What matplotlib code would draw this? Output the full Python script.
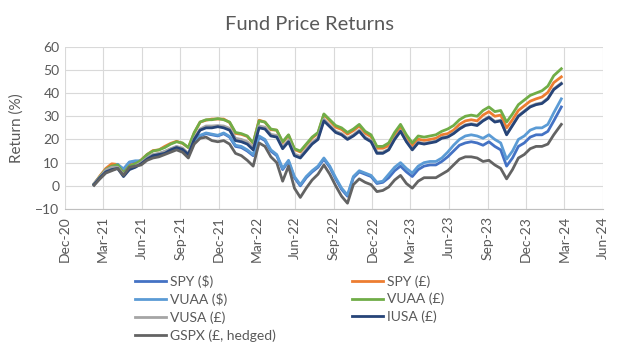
import matplotlib
matplotlib.use('Agg')
import matplotlib.pyplot as plt
import matplotlib.dates as mdates
import pandas as pd

# ---------------- data ----------------
dates = [
    "2021-02-08", "2021-02-22", "2021-03-08", "2021-03-22", "2021-04-05", "2021-04-19", "2021-05-03", "2021-05-17",
    "2021-05-31", "2021-06-14", "2021-06-28", "2021-07-12", "2021-07-26", "2021-08-09", "2021-08-23", "2021-09-06",
    "2021-09-20", "2021-10-04", "2021-10-18", "2021-11-01", "2021-11-15", "2021-11-29", "2021-12-13", "2021-12-27",
    "2022-01-10", "2022-01-24", "2022-02-07", "2022-02-21", "2022-03-07", "2022-03-21", "2022-04-04", "2022-04-18",
    "2022-05-02", "2022-05-16", "2022-05-30", "2022-06-13", "2022-06-27", "2022-07-11", "2022-07-25", "2022-08-08",
    "2022-08-22", "2022-09-05", "2022-09-19", "2022-10-03", "2022-10-17", "2022-10-31", "2022-11-14", "2022-11-28",
    "2022-12-12", "2022-12-26", "2023-01-09", "2023-01-23", "2023-02-06", "2023-02-20", "2023-03-06", "2023-03-20",
    "2023-04-03", "2023-04-17", "2023-05-01", "2023-05-15", "2023-05-29", "2023-06-12", "2023-06-26", "2023-07-10",
    "2023-07-24", "2023-08-07", "2023-08-21", "2023-09-04", "2023-09-18", "2023-10-02", "2023-10-16", "2023-10-30",
    "2023-11-13", "2023-11-27", "2023-12-11", "2023-12-25", "2024-01-08", "2024-01-22", "2024-02-05", "2024-02-23",
]

spy_usd = [0.5, 3.5, 6.5, 7.5, 9, 7, 10, 10.5, 10.5, 12,
           13, 13.5, 14.5, 15.5, 16.5, 15.5, 13, 19, 21.5, 22.5,
           22, 21.5, 22.5, 21, 17, 16.5, 15, 13, 21, 19.5,
           15, 13, 7, 10.5, 3.5, 0, 3.5, 6, 8, 11.5,
           8, 3, -1.5, -4.5, 3.5, 6, 5, 4, 1, 1.5,
           3.5, 6.5, 8.5, 6, 4, 7, 8.5, 9, 9, 10.5,
           12.5, 15, 17.5, 18.5, 19, 18.5, 17.5, 19, 17, 15.5,
           8.5, 12, 17, 18.5, 21, 22, 22, 23.5, 28, 34]

spy_gbp = [0.8, 4.3, 7.5, 9.5, 9.2, 5.5, 8.8, 9.5, 11.2, 13.5,
           15.2, 15.5, 17, 18.3, 19.2, 18.3, 16.5, 22.8, 27.5, 28.3,
           28.8, 28.8, 28.8, 27.3, 22.6, 22.2, 21.3, 18.3, 28.3, 27.5,
           24.2, 24, 18.6, 21.8, 15.7, 14.6, 17.6, 20.6, 22.6, 30.7,
           28, 25.3, 24.3, 22.3, 23.8, 25.8, 22.7, 21.2, 16.2, 16.2,
           17.3, 21.7, 25.2, 20.6, 17.1, 20.1, 19.6, 20, 20.5, 22,
           22.5, 24, 26.5, 28, 28.5, 28, 30.5, 32, 30, 30.5,
           25, 28.5, 32.5, 34.5, 36.5, 37.5, 38.3, 40.3, 44.5, 47]

vuaa_usd = [0.8, 3.8, 6.8, 7.8, 9.3, 7.3, 10.3, 10.8, 10.8, 12.3,
            13.3, 13.8, 14.8, 15.8, 16.8, 15.8, 13.3, 19.3, 21.8, 22.8,
            22.3, 21.8, 22.8, 21.3, 17.5, 17, 15.5, 13.5, 21.5, 20,
            15.5, 13.5, 7.5, 11, 4, 0.5, 4, 6.5, 8.5, 12,
            8.5, 3.5, -1, -4, 4, 6.5, 5.5, 4.5, 1.5, 2,
            5, 8, 10, 7.5, 5.5, 8.5, 10, 10.5, 10.5, 12,
            14.5, 17.5, 20, 21.5, 22, 21.5, 20.5, 22, 20, 18.5,
            11.5, 15, 20, 21.5, 24, 25, 25, 26.5, 31.5, 37.5]

vuaa_gbp = [0.8, 4, 7, 8.5, 9, 5.5, 8.5, 9.5, 11, 13.5,
            15, 15.5, 16.5, 18, 19, 18.5, 16.5, 23, 27.5, 28.5,
            28.5, 29, 28.5, 27.5, 23, 22.5, 21.5, 18.5, 28, 27.5,
            24.5, 24, 19, 22, 16, 15, 18, 21, 23, 31,
            28.5, 26, 25, 23, 24.5, 26.5, 23.5, 22, 17, 17,
            18.5, 23, 26.5, 22, 18.5, 21.5, 21, 21.5, 22, 23.5,
            24.5, 26, 28.5, 30, 30.5, 30, 32.5, 34, 32, 32.5,
            27.5, 31, 35, 37, 39, 40, 41, 43, 47.5, 50.5]

vusa_gbp = [1, 3.8, 6.8, 8, 8, 4.8, 7.3, 8.5, 10, 12,
            13.5, 14, 14.8, 16, 17, 16.3, 14, 20.5, 24.5, 25.8,
            25.8, 26, 25.8, 24.8, 20.5, 20, 19, 16.5, 25.8, 25.3,
            22.2, 21.7, 16.7, 19.7, 13.7, 12.7, 15.7, 18.7, 20.7, 28.7,
            26, 23.5, 22.5, 20.5, 22, 24, 21, 19.5, 14.5, 14.5,
            15.8, 20.3, 23.8, 19.3, 15.8, 18.8, 18.3, 18.8, 19.3, 20.8,
            21.3, 22.8, 24.8, 26.3, 26.8, 26.3, 28.3, 29.8, 27.8, 28.3,
            22.3, 26.3, 30.3, 32.3, 34.3, 35.3, 35.8, 37.8, 41.8, 44.3]

iusa_gbp = [0.5, 3.5, 6, 7, 7.5, 4, 7, 8, 9.5, 11.5,
            13, 13.5, 14, 15.5, 16.5, 15.7, 13.5, 20, 24, 25,
            25, 25.5, 25, 24, 19.5, 19, 18, 15.5, 25, 24.5,
            21.5, 21, 16, 19, 13, 12, 15, 18, 20, 28,
            25.5, 23, 22, 20, 21.5, 23.5, 20.5, 19, 14, 14,
            15.5, 20, 23.5, 19, 15.5, 18.5, 18, 18.5, 19, 20.5,
            21, 22.5, 24.5, 26, 26.5, 26, 28, 29.5, 27.5, 28,
            22, 26, 30, 32, 34, 35, 35.5, 37.5, 41.5, 44]

gspx_gbp_hedged = [0.2, 3, 5.5, 6.5, 7.5, 4.5, 8, 8.5, 9, 11,
                   12, 12.5, 13.5, 14.5, 15.5, 14.5, 12, 18, 20.5, 21,
                   19.5, 19, 19.5, 18, 14, 13, 11, 8.5, 18.5, 17,
                   12.5, 10, 2, 8.5, -1, -5, -1, 2.5, 5, 9,
                   5, 0, -4.5, -7.5, 0.5, 3, 1.5, 0.5, -2.5, -2,
                   -0.5, 2.5, 4.5, 1, -1, 2, 3.5, 3.5, 3.5, 5,
                   6.5, 9, 11.5, 12.5, 12.5, 12, 10.5, 11, 9, 7.5,
                   3, 7, 12, 13.5, 16, 17, 17, 18, 22, 26.5]

series_labels = ["SPY ($)", "SPY (£)", "VUAA ($)", "VUAA (£)", "VUSA (£)", "IUSA (£)", "GSPX (£, hedged)"]
series_values = [spy_usd, spy_gbp, vuaa_usd, vuaa_gbp, vusa_gbp, iusa_gbp, gspx_gbp_hedged]
series_colors = ["#4472C4", "#ED7D31", "#5B9BD5", "#70AD47", "#A5A5A5", "#264478", "#636363"]

title = "Fund Price Returns"
ylabel = "Return (%)"

# ---------------- plotting ----------------
plt.rcParams['font.family'] = ['Lato', 'DejaVu Sans']
TXT = "#595959"

W, H = 619, 353
fig = plt.figure(figsize=(W / 100, H / 100), dpi=100)
left, right, top, bottom = 65, 603, 46.7, 209
ax = fig.add_axes([left / W, 1 - bottom / H, (right - left) / W, (bottom - top) / H])

x = pd.to_datetime(dates)
handles = {}
for lab, vals, col in zip(series_labels, series_values, series_colors):
    (h,) = ax.plot(x, vals, color=col, lw=2.0, label=lab, solid_joinstyle='round')
    handles[lab] = h

ax.set_xlim(pd.Timestamp("2020-12-01"), pd.Timestamp("2024-06-01"))
ax.set_ylim(-10, 60)
ax.set_yticks(range(-10, 61, 10))
ax.xaxis.set_major_locator(mdates.MonthLocator(bymonth=[3, 6, 9, 12], bymonthday=1))
ax.xaxis.set_major_formatter(mdates.DateFormatter('%b-%y'))
for lbl in ax.get_xticklabels():
    lbl.set_rotation(90)

ax.grid(True, color="#D9D9D9", lw=0.8)
ax.set_axisbelow(True)
for s in ["top", "right", "left"]:
    ax.spines[s].set_visible(False)
ax.spines["bottom"].set_color("#BFBFBF")
ax.spines["bottom"].set_linewidth(0.8)
ax.tick_params(axis='both', length=0, colors=TXT, labelsize=10, pad=4)
ax.tick_params(axis='x', pad=5)

ax.set_ylabel(ylabel, fontsize=11, color=TXT)
ax.yaxis.set_label_coords(-0.077, 0.5)

fig.text(0.5, 1 - 25 / H, title, ha='center', va='center', fontsize=14.5, color=TXT)

col1 = ["SPY ($)", "VUAA ($)", "VUSA (£)", "GSPX (£, hedged)"]
col2 = ["SPY (£)", "VUAA (£)", "IUSA (£)"]
common = dict(loc='upper left', frameon=False, fontsize=10, handlelength=2.2,
              handletextpad=0.35, labelspacing=0.38, borderpad=0, borderaxespad=0,
              labelcolor=TXT)
leg1 = fig.legend([handles[k] for k in col1], col1, bbox_to_anchor=(135 / W, 1 - 275 / H), **common)
leg2 = fig.legend([handles[k] for k in col2], col2, bbox_to_anchor=(352 / W, 1 - 275 / H), **common)

fig.savefig("out.png", dpi=100)
